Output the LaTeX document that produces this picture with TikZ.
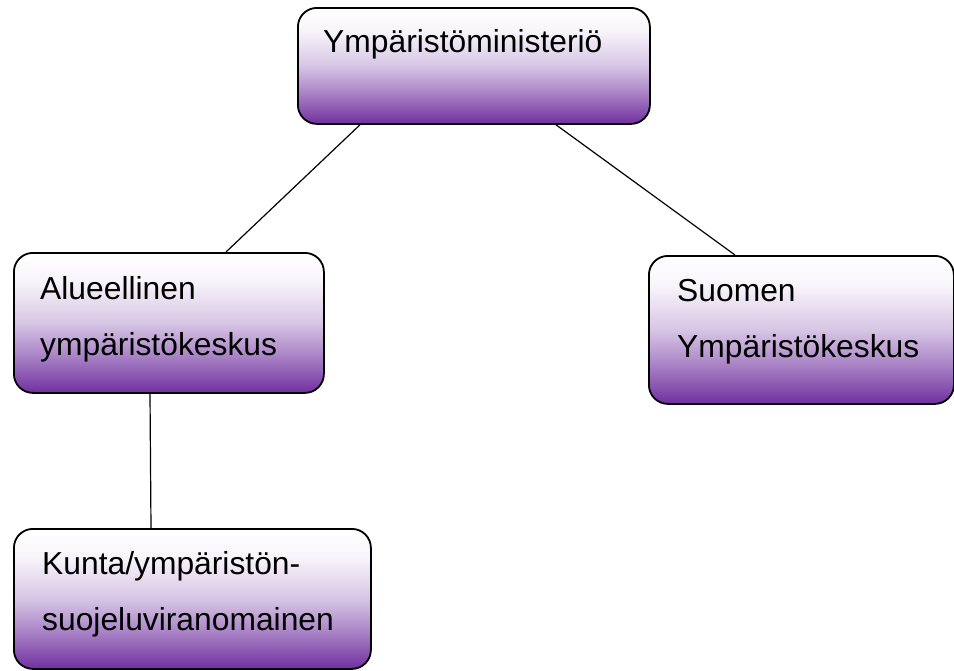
\documentclass[tikz,border=0pt]{standalone}
\usepackage{fontspec}
\setmainfont{Liberation Sans}
\definecolor{purp}{RGB}{112,48,160}
\pgfdeclareverticalshading{boxshade}{100bp}{color(0bp)=(purp); color(25bp)=(purp); color(40bp)=(purp!55); color(50bp)=(purp!28); color(65bp)=(purp!5); color(75bp)=(white); color(100bp)=(white)}
\begin{document}
\begin{tikzpicture}[x=1pt,y=-1pt,
  orgbox/.style={draw=black, line width=1.8pt, rounded corners=19pt, shading=boxshade, inner sep=0pt, anchor=north west},
  boxtext/.style={anchor=base west, inner sep=0pt, font=\fontsize{31.8}{56}\selectfont, align=left},
  link/.style={draw=black, line width=1.2pt}]
\useasboundingbox (0,0) rectangle (954,670);
\node[orgbox, minimum width=352pt, minimum height=116pt] (ym) at (297,7) {};
\node[orgbox, minimum width=310pt, minimum height=140pt] (al) at (13,252) {};
\node[orgbox, minimum width=305pt, minimum height=148pt] (su) at (648,255) {};
\node[orgbox, minimum width=357pt, minimum height=140pt] (ku) at (13,528) {};
\node[boxtext] (ymt) at (323,52) {Ympäristöministeriö};
\node[boxtext] (alt) at (40,355) {Alueellinen\\ympäristökeskus};
\node[boxtext] (sut) at (677,357) {Suomen\\Ympäristökeskus};
\node[boxtext] (kut) at (42,630) {Kunta/ympäristön-\\suojeluviranomainen};
\draw[link] ([xshift=63pt]ym.south west) -- ([xshift=213pt]al.north west);
\draw[link] ([xshift=259pt]ym.south west) -- ([xshift=87pt]su.north west);
\draw[link] ([xshift=137pt]al.south west) -- ([xshift=138pt]ku.north west);
\end{tikzpicture}
\end{document}
